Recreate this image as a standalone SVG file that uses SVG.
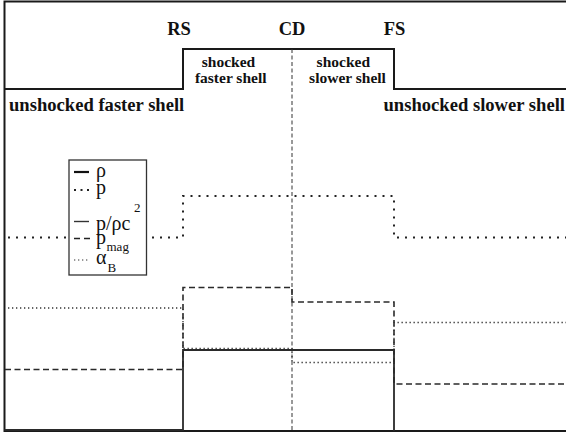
<svg xmlns="http://www.w3.org/2000/svg" width="566" height="435" viewBox="0 0 566 435">
<style>
.bold{font-family:"Liberation Serif","Times New Roman",serif;font-weight:bold;fill:#111}
.leg{font-family:"Liberation Serif","Times New Roman",serif;fill:#111}
.frame{fill:none;stroke:#1a1a1a;stroke-width:2}
.rho{fill:none;stroke:#2a2a2a;stroke-width:1.8}
.pres{fill:none;stroke:#222;stroke-width:2;stroke-dasharray:2 6}
.mag{fill:none;stroke:#2a2a2a;stroke-width:1.6;stroke-dasharray:6 3.5}
.alpha{fill:none;stroke:#333;stroke-width:1.3;stroke-dasharray:1.3 2.7}
.cd{fill:none;stroke:#333;stroke-width:1;stroke-dasharray:4 2.5}
</style>
<rect width="566" height="435" fill="#fff"/>
<g id="frame">
<path class="frame" d="M566,1.5 H4.5 V431 H566"/>
<path class="frame" d="M4.5,89 H183 V49 H394 V89 H566"/>
</g>
<g id="curves">
<path class="cd" d="M292,49 V431"/>
<path class="rho" d="M4.5,430 H183 V350 H394 V431"/>
<path class="pres" d="M8,237.5 H183 V196 H394 V237.5 H566"/>
<path class="mag" d="M5,369.5 H183 V287.5 H292 V302 H394 V384 H566"/>
<path class="alpha" d="M8,308 H183 V348.5 H292 V362.5 H394 V322.5 H566"/>
</g>
<g id="labels">
<text class="bold" x="179" y="35" font-size="18.5" text-anchor="middle">RS</text>
<text class="bold" x="292" y="35" font-size="18.5" text-anchor="middle">CD</text>
<text class="bold" x="394.5" y="35" font-size="18.5" text-anchor="middle">FS</text>
<text class="bold" x="228.5" y="67" font-size="15.5" text-anchor="middle">shocked</text>
<text class="bold" x="230.7" y="83" font-size="15.5" text-anchor="middle">faster shell</text>
<text class="bold" x="343.3" y="67" font-size="15.5" text-anchor="middle">shocked</text>
<text class="bold" x="347.5" y="83" font-size="15.5" text-anchor="middle">slower shell</text>
<text class="bold" x="9" y="110.5" font-size="18.6">unshocked faster shell</text>
<text class="bold" x="565" y="110.5" font-size="18.6" text-anchor="end">unshocked slower shell</text>
</g>
<g id="legend">
<rect x="69" y="160" width="77.5" height="115" fill="#fff" stroke="#333" stroke-width="1.3"/>
<path d="M74,172 H89" stroke="#111" stroke-width="2.2" fill="none"/>
<path d="M74,190 H90" stroke="#222" stroke-width="2" stroke-dasharray="2 4.5" fill="none"/>
<path d="M74,221.5 H89" stroke="#333" stroke-width="1.4" fill="none"/>
<path d="M74,238.5 H90" stroke="#222" stroke-width="1.6" stroke-dasharray="6 4" fill="none"/>
<path d="M74,260 H90" stroke="#333" stroke-width="1.2" stroke-dasharray="1.3 2.7" fill="none"/>
<text class="leg" x="96" y="177" font-size="20">ρ</text>
<text class="leg" x="96" y="194" font-size="20">p</text>
<text class="leg" x="96" y="229.5" font-size="20">p/ρc</text>
<text class="leg" x="134" y="212" font-size="13">2</text>
<text class="leg" x="96" y="244" font-size="20">p</text>
<text class="leg" x="106.5" y="251" font-size="13">mag</text>
<text class="leg" x="96" y="264" font-size="20">α</text>
<text class="leg" x="107.5" y="272" font-size="13">B</text>
</g>
</svg>
